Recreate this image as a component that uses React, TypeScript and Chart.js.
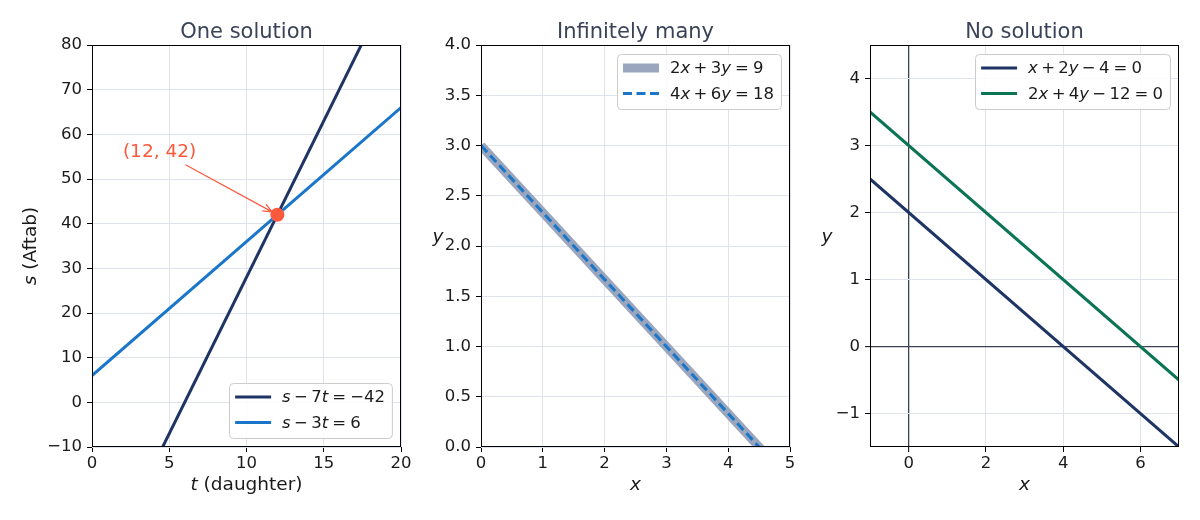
import { useEffect, useRef } from 'react';
import { Chart, registerables } from 'chart.js';

Chart.register(...registerables);

const FONT = '"DejaVu Sans", sans-serif';

// ---- panel 1: one solution (t = daughter, s = Aftab)
const tValues = [0, 20];
const lineSevenT = [-42, 98]; // s - 7t = -42
const lineThreeT = [6, 66]; // s - 3t = 6
const solution = { x: 12, y: 42 };
const oneXTicks = [0, 5, 10, 15, 20];
const oneYTicks = [-10, 0, 10, 20, 30, 40, 50, 60, 70, 80];

// ---- panel 2: infinitely many
const manyX = [0, 5];
const manyY = [3, -0.3333]; // both equations give the same line
const manyXTicks = [0, 1, 2, 3, 4, 5];
const manyYTicks = [0, 0.5, 1, 1.5, 2, 2.5, 3, 3.5, 4];

// ---- panel 3: no solution
const noneX = [-1, 7];
const noneA = [2.5, -1.5]; // x + 2y - 4 = 0
const noneB = [3.5, -0.5]; // 2x + 4y - 12 = 0
const noneXTicks = [0, 2, 4, 6];
const noneYTicks = [-1, 0, 1, 2, 3, 4];

type Seg = [string, boolean]; // text, italic

const NAVY = '#1e3464';
const BLUE = '#1976c9';
const ORANGE = '#fc5a3c';
const GREEN = '#0b7455';
const GRAY = '#9aa6bd';

const TICK_SIZE = 16.5;
const LABEL_SIZE = 18.5;
const LEGEND_SIZE = 16.5;

// math-style spacing
const BIN = '\u2009'; // around + and −
const REL = '\u2005'; // around =

const zip = (xs: number[], ys: number[]) => xs.map((x, i) => ({ x, y: ys[i] }));

const minusFmt = (v: number) => (v < 0 ? '\u2212' + Math.abs(v) : String(v));

function fontStr(size: number, italic: boolean) {
  return `${italic ? 'italic ' : ''}${size}px ${FONT}`;
}

function segsWidth(ctx: CanvasRenderingContext2D, segs: Seg[], size: number) {
  let w = 0;
  for (const [t, it] of segs) {
    ctx.font = fontStr(size, it);
    w += ctx.measureText(t).width;
  }
  return w;
}

function drawSegs(ctx: CanvasRenderingContext2D, segs: Seg[], x: number, y: number, size: number) {
  let cx = x;
  for (const [t, it] of segs) {
    ctx.font = fontStr(size, it);
    ctx.fillText(t, cx, y);
    cx += ctx.measureText(t).width;
  }
}

const decorPlugin = {
  id: 'decor',
  afterDatasetsDraw(chart: any, _args: any, opts: any) {
    const { ctx, chartArea: a, scales } = chart;
    const px = (v: number) => scales.x.getPixelForValue(v);
    const py = (v: number) => scales.y.getPixelForValue(v);
    ctx.save();

    // spines
    ctx.strokeStyle = '#000';
    ctx.lineWidth = 1;
    const l = Math.round(a.left) + 0.5;
    const r = Math.round(a.right) - 0.5;
    const t = Math.round(a.top) + 0.5;
    const b = Math.round(a.bottom) - 0.5;
    ctx.strokeRect(l, t, r - l, b - t);

    // annotation with arrow
    if (opts.note) {
      const n = opts.note;
      ctx.fillStyle = ORANGE;
      ctx.font = fontStr(LABEL_SIZE, false);
      ctx.textAlign = 'left';
      ctx.textBaseline = 'alphabetic';
      ctx.fillText(n.text, px(n.x), py(n.y));
      const x0 = px(n.fromX), y0 = py(n.fromY);
      const x1f = px(n.toX), y1f = py(n.toY);
      const ang = Math.atan2(y1f - y0, x1f - x0);
      const x1 = x1f - Math.cos(ang) * 6;
      const y1 = y1f - Math.sin(ang) * 6;
      ctx.strokeStyle = ORANGE;
      ctx.lineWidth = 1.2;
      ctx.beginPath();
      ctx.moveTo(x0, y0);
      ctx.lineTo(x1, y1);
      for (const s of [-1, 1]) {
        ctx.moveTo(x1, y1);
        ctx.lineTo(x1 - Math.cos(ang + s * 0.4) * 10, y1 - Math.sin(ang + s * 0.4) * 10);
      }
      ctx.stroke();
    }

    // legend inside the axes
    if (opts.legend) {
      const size = LEGEND_SIZE;
      const items = opts.legend.items;
      const handle = 36;
      const gap = 11;
      const rowH = 25.5;
      const textW = Math.max(...items.map((it: any) => segsWidth(ctx, it.label, size)));
      const w = 6 + handle + gap + textW + 7;
      const h = rowH * items.length + 4;
      const bx = a.right - 9 - w;
      const by = opts.legend.where === 'lower' ? a.bottom - 9 - h : a.top + 9;
      ctx.fillStyle = 'rgba(255,255,255,0.85)';
      ctx.strokeStyle = '#cccccc';
      ctx.lineWidth = 1;
      ctx.beginPath();
      ctx.roundRect(Math.round(bx) + 0.5, Math.round(by) + 0.5, w, h, 4);
      ctx.fill();
      ctx.stroke();
      items.forEach((it: any, i: number) => {
        const cy = by + 14 + i * rowH;
        ctx.strokeStyle = it.color;
        ctx.lineWidth = it.width;
        ctx.setLineDash(it.dash || []);
        ctx.lineCap = 'butt';
        ctx.beginPath();
        ctx.moveTo(bx + 6, cy);
        ctx.lineTo(bx + 6 + handle, cy);
        ctx.stroke();
        ctx.setLineDash([]);
        ctx.fillStyle = '#1a1a1a';
        ctx.textAlign = 'left';
        ctx.textBaseline = 'middle';
        drawSegs(ctx, it.label, bx + 6 + handle + gap, cy + 1, size);
      });
    }
    ctx.restore();
  },
  afterDraw(chart: any, _args: any, opts: any) {
    const { ctx, chartArea: a } = chart;
    const cx = (a.left + a.right) / 2;
    ctx.save();
    ctx.fillStyle = '#3b4358';
    ctx.font = fontStr(21, false);
    ctx.textAlign = 'center';
    ctx.textBaseline = 'alphabetic';
    ctx.fillText(opts.title, cx, 37.5);

    ctx.fillStyle = '#1a1a1a';
    ctx.textAlign = 'left';
    const xs = LABEL_SIZE;
    drawSegs(ctx, opts.xLabel, cx - segsWidth(ctx, opts.xLabel, xs) / 2, 490, xs);
    const yw = segsWidth(ctx, opts.yLabel, xs);
    ctx.textBaseline = 'middle';
    if (opts.yRotated) {
      ctx.translate(31, (a.top + a.bottom) / 2);
      ctx.rotate(-Math.PI / 2);
      drawSegs(ctx, opts.yLabel, -yw / 2, 0, xs);
    } else {
      drawSegs(ctx, opts.yLabel, a.left - 37.5 - yw, (a.top + a.bottom) / 2 - 9, xs);
    }
    ctx.restore();
  },
};

function axis(
  min: number,
  max: number,
  ticks: number[],
  fmt: (v: number) => string,
  isY: boolean,
  size: number,
  zeroLine = false
) {
  return {
    type: 'linear',
    min,
    max,
    afterBuildTicks: (s: any) => {
      s.ticks = ticks.map((v) => ({ value: v }));
    },
    afterFit: (s: any) => {
      if (isY) s.width = size;
      else s.height = size;
    },
    grid: {
      color: (c: any) => (zeroLine && c.tick && c.tick.value === 0 ? '#3c4252' : '#dee3ee'),
      lineWidth: (c: any) => (zeroLine && c.tick && c.tick.value === 0 ? 1.3 : 1),
      tickColor: '#000',
      tickLength: 5,
      tickWidth: 1,
    },
    border: { display: false },
    ticks: {
      color: '#1a1a1a',
      font: { family: FONT, size: TICK_SIZE },
      padding: isY ? 5 : 2,
      autoSkip: false,
      maxRotation: 0,
      callback: (v: any) => fmt(Number(v)),
    },
  };
}

function baseOptions(right: number, scales: any, decor: any) {
  return {
    responsive: false,
    animation: false,
    events: [],
    layout: { padding: { top: 45, right, left: 0, bottom: 0 } },
    scales,
    plugins: { legend: { display: false }, tooltip: { enabled: false }, title: { display: false }, decor },
  };
}

const lineDs = (data: any, color: string, width: number, order: number, extra: any = {}) => ({
  data,
  showLine: true,
  borderColor: color,
  borderWidth: width,
  pointRadius: 0,
  fill: false,
  tension: 0,
  order,
  ...extra,
});

const panels = [
  {
    left: 0,
    width: 430,
    config: {
      type: 'scatter',
      data: {
        datasets: [
          {
            data: [solution],
            pointRadius: 7,
            pointBackgroundColor: ORANGE,
            pointBorderWidth: 0,
            showLine: false,
            order: 0,
          },
          lineDs(zip(tValues, lineSevenT), NAVY, 3, 2),
          lineDs(zip(tValues, lineThreeT), BLUE, 3, 1),
        ],
      },
      options: baseOptions(
        29,
        {
          x: axis(0, 20, oneXTicks, minusFmt, false, 73),
          y: axis(-10, 80, oneYTicks, minusFmt, true, 92),
        },
        {
          title: 'One solution',
          xLabel: [['t', true], [' (daughter)', false]],
          yLabel: [['s', true], [' (Aftab)', false]],
          yRotated: true,
          note: { text: '(12, 42)', x: 2, y: 55, fromX: 6.05, fromY: 53.2, toX: solution.x, toY: solution.y },
          legend: {
            where: 'lower',
            items: [
              { color: NAVY, width: 3, label: [['s', true], [BIN + '\u2212' + BIN + '7', false], ['t', true], [REL + '=' + REL + '\u221242', false]] },
              { color: BLUE, width: 3, label: [['s', true], [BIN + '\u2212' + BIN + '3', false], ['t', true], [REL + '=' + REL + '6', false]] },
            ],
          },
        }
      ),
    },
  },
  {
    left: 430,
    width: 389,
    config: {
      type: 'scatter',
      data: {
        datasets: [
          lineDs(zip(manyX, manyY), GRAY, 9, 1),
          lineDs(zip(manyX, manyY), BLUE, 3, 0, { borderDash: [9, 4.5] }),
        ],
      },
      options: baseOptions(
        29,
        {
          x: axis(0, 5, manyXTicks, (v) => String(v), false, 73),
          y: axis(0, 4, manyYTicks, (v) => v.toFixed(1), true, 51),
        },
        {
          title: 'Infinitely many',
          xLabel: [['x', true]],
          yLabel: [['y', true]],
          yRotated: false,
          legend: {
            where: 'upper',
            items: [
              { color: GRAY, width: 9, label: [['2', false], ['x', true], [BIN + '+' + BIN + '3', false], ['y', true], [REL + '=' + REL + '9', false]] },
              { color: BLUE, width: 3, dash: [9, 4.5], label: [['4', false], ['x', true], [BIN + '+' + BIN + '6', false], ['y', true], [REL + '=' + REL + '18', false]] },
            ],
          },
        }
      ),
    },
  },
  {
    left: 819,
    width: 381,
    config: {
      type: 'scatter',
      data: {
        datasets: [lineDs(zip(noneX, noneA), NAVY, 3, 1), lineDs(zip(noneX, noneB), GREEN, 3, 0)],
      },
      options: baseOptions(
        21,
        {
          x: axis(-1, 7, noneXTicks, minusFmt, false, 73, true),
          y: axis(-1.5, 4.5, noneYTicks, minusFmt, true, 51, true),
        },
        {
          title: 'No solution',
          xLabel: [['x', true]],
          yLabel: [['y', true]],
          yRotated: false,
          legend: {
            where: 'upper',
            items: [
              { color: NAVY, width: 3, label: [['x', true], [BIN + '+' + BIN + '2', false], ['y', true], [BIN + '\u2212' + BIN + '4' + REL + '=' + REL + '0', false]] },
              { color: GREEN, width: 3, label: [['2', false], ['x', true], [BIN + '+' + BIN + '4', false], ['y', true], [BIN + '\u2212' + BIN + '12' + REL + '=' + REL + '0', false]] },
            ],
          },
        }
      ),
    },
  },
];

function Panel({ config, left, width }: { config: any; left: number; width: number }) {
  const canvasRef = useRef<HTMLCanvasElement>(null);

  useEffect(() => {
    if (!canvasRef.current) return;
    const chart = new Chart(canvasRef.current, { ...config, plugins: [decorPlugin] });
    return () => chart.destroy();
  }, [config]);

  return (
    <canvas
      ref={canvasRef}
      width={width}
      height={520}
      style={{ position: 'absolute', left, top: 0, width, height: 520, display: 'block' }}
    />
  );
}

export default function App() {
  return (
    <div style={{ position: 'absolute', left: 0, top: 0, width: 1200, height: 520, background: '#fff' }}>
      {panels.map((p, i) => (
        <Panel key={i} config={p.config} left={p.left} width={p.width} />
      ))}
    </div>
  );
}
